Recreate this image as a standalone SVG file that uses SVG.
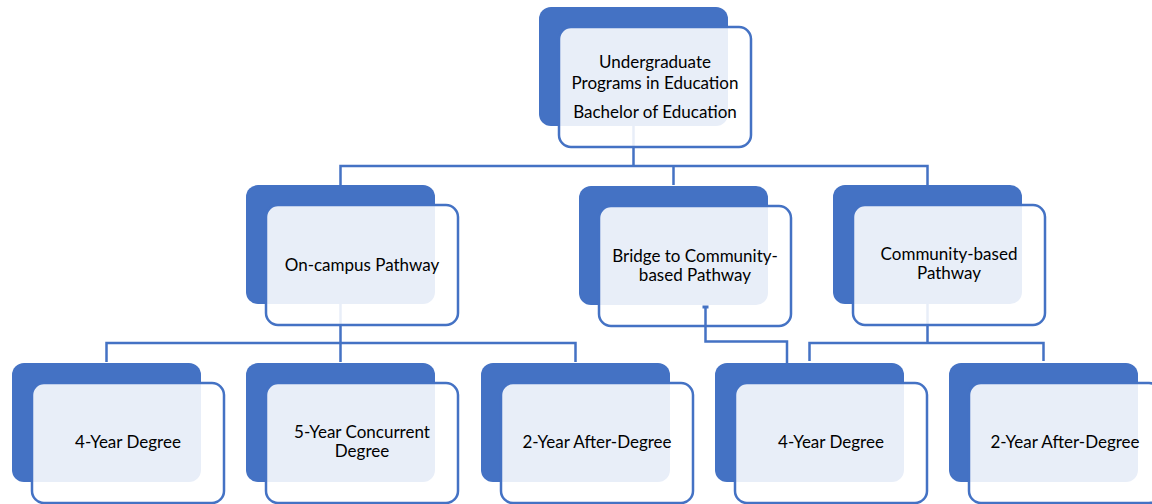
<svg xmlns="http://www.w3.org/2000/svg" width="1152" height="504" viewBox="0 0 1152 504">
<style>
.back{fill:#4472C4}
.front{fill:#FFFFFF;fill-opacity:0.88;stroke:#4472C4;stroke-width:2.5}
.conn{fill:none;stroke:#4472C4;stroke-width:2.5}
text{font-family:Lato,"Open Sans","Liberation Sans",sans-serif;font-size:17px;fill:#000;text-anchor:middle}
</style>
<rect width="1152" height="504" fill="#FFFFFF"/>
<g id="connectors">
<path class="conn" d="M633.5 126 V166 M340.5 185 V166 H927.5 V185 M673.5 166 V185"/>
<path class="conn" d="M340.5 304 V343 M106.5 362 V343 H575.5 V362 M340.5 343 V362"/>
<path class="conn" d="M927.5 304 V343 M809.5 361 V343 H1043.5 V361"/>
</g>
<g id="node-top">
<rect class="back" x="539" y="7" width="189" height="119" rx="12"/>
<rect class="front" x="559" y="27" width="192" height="120" rx="12"/>
<text x="655" y="68">Undergraduate</text>
<text x="655" y="89">Programs in Education</text>
<text x="655" y="118">Bachelor of Education</text>
</g>
<g id="node-oncampus">
<rect class="back" x="246" y="185" width="189" height="119" rx="12"/>
<rect class="front" x="266" y="205" width="192" height="120" rx="12"/>
<text x="362" y="271">On-campus Pathway</text>
</g>
<g id="node-bridge">
<rect class="back" x="579" y="186" width="189" height="119" rx="12"/>
<rect class="front" x="599" y="206" width="192" height="120" rx="12"/>
<text x="695" y="262">Bridge to Community-</text>
<text x="695" y="281">based Pathway</text>
</g>
<g id="node-community">
<rect class="back" x="833" y="185" width="189" height="119" rx="12"/>
<rect class="front" x="853" y="205" width="192" height="120" rx="12"/>
<text x="949" y="260">Community-based</text>
<text x="949" y="279">Pathway</text>
</g>
<g id="node-4year-a">
<rect class="back" x="12" y="363" width="189" height="119" rx="12"/>
<rect class="front" x="32" y="383" width="192" height="120" rx="12"/>
<text x="128" y="448">4-Year Degree</text>
</g>
<g id="node-5year">
<rect class="back" x="246" y="363" width="189" height="119" rx="12"/>
<rect class="front" x="266" y="383" width="192" height="120" rx="12"/>
<text x="362" y="438">5-Year Concurrent</text>
<text x="362" y="457">Degree</text>
</g>
<g id="node-2year-a">
<rect class="back" x="481" y="363" width="189" height="119" rx="12"/>
<rect class="front" x="501" y="383" width="192" height="120" rx="12"/>
<text x="597" y="448">2-Year After-Degree</text>
</g>
<g id="node-4year-b">
<rect class="back" x="715" y="363" width="189" height="119" rx="12"/>
<rect class="front" x="735" y="383" width="192" height="120" rx="12"/>
<text x="831" y="448">4-Year Degree</text>
</g>
<g id="node-2year-b">
<rect class="back" x="949" y="363" width="189" height="119" rx="12"/>
<rect class="front" x="969" y="383" width="192" height="120" rx="12"/>
<text x="1065" y="448">2-Year After-Degree</text>
</g>
<g id="connector-bridge">
<path class="conn" d="M705.5 307 V341.5 H787 V363"/>
<rect x="702.5" y="305.5" width="6" height="3" fill="#4472C4"/>
</g>
</svg>
